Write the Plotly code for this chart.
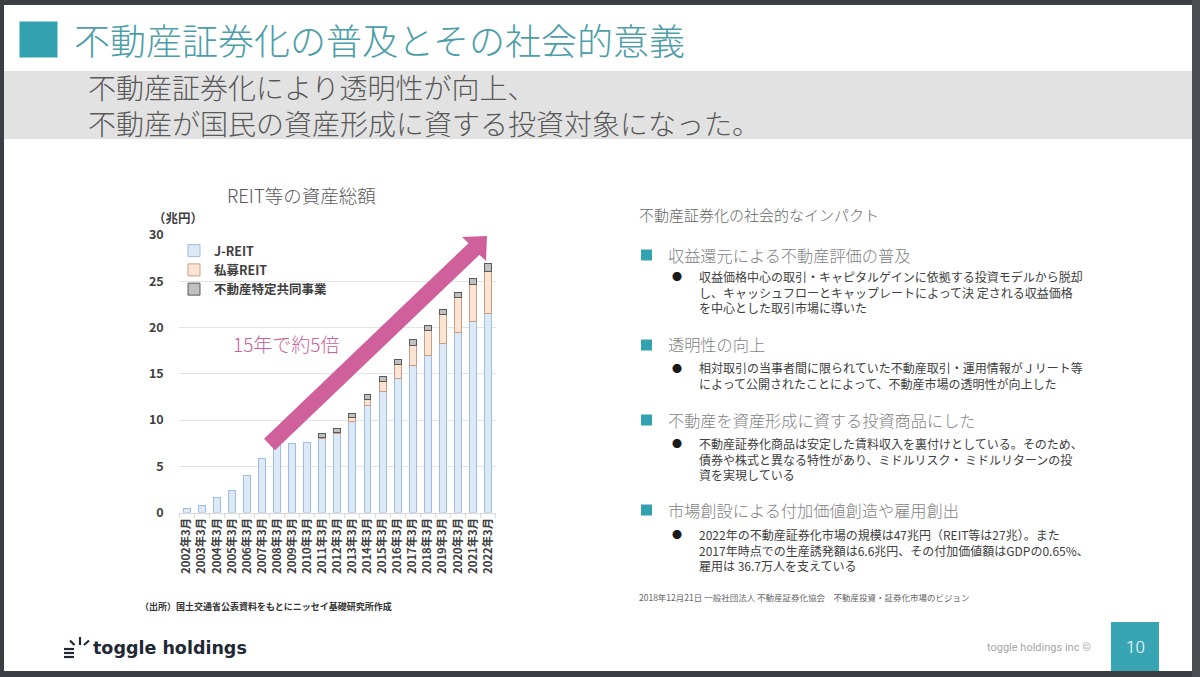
import plotly.graph_objects as go

W, H = 1200, 677
def P(x): return x / W
def Q(y): return 1 - y / H

# ---------------- data ----------------
periods = ["2002年3月", "2003年3月", "2004年3月", "2005年3月", "2006年3月", "2007年3月",
           "2008年3月", "2009年3月", "2010年3月", "2011年3月", "2012年3月", "2013年3月",
           "2014年3月", "2015年3月", "2016年3月", "2017年3月", "2018年3月", "2019年3月",
           "2020年3月", "2021年3月", "2022年3月"]
jreit = [0.4, 0.8, 1.6, 2.4, 4.0, 5.8, 7.2, 7.5, 7.6, 8.0, 8.5, 9.8, 11.6, 13.1, 14.5,
         15.9, 17.0, 18.3, 19.5, 20.6, 21.5]
private_reit = [None, None, None, None, None, None, None, None, None, 0.1, 0.15, 0.5, 0.6,
                1.1, 1.5, 2.2, 2.7, 3.1, 3.7, 4.1, 4.6]
tokutei = [None, None, None, None, None, None, None, None, None, 0.45, 0.45, 0.4, 0.55,
           0.5, 0.5, 0.6, 0.5, 0.6, 0.6, 0.65, 0.85]
series_names = ["J-REIT", "私募REIT", "不動産特定共同事業"]
y_ticks = [0, 5, 10, 15, 20, 25, 30]

JP = "Noto Sans CJK JP, Noto Sans, sans-serif"

fig = go.Figure()
fig.add_trace(go.Bar(x=periods, y=jreit, name=series_names[0],
                     marker=dict(color="#dde9f6", line=dict(color="#9dbde2", width=1))))
fig.add_trace(go.Bar(x=periods, y=private_reit, name=series_names[1],
                     marker=dict(color="#fce4d4", line=dict(color="#c99c84", width=1))))
fig.add_trace(go.Bar(x=periods, y=tokutei, name=series_names[2],
                     marker=dict(color="#c0c0c0", line=dict(color="#5a5a5a", width=1))))

fig.update_layout(
    width=W, height=H, margin=dict(l=0, r=0, t=0, b=0),
    paper_bgcolor="white", plot_bgcolor="white",
    barmode="stack", bargap=0.54,
    font=dict(family=JP, color="#404040"),
    showlegend=True,
    legend=dict(x=P(174), y=Q(236), xanchor="left", yanchor="top",
                traceorder="normal", bgcolor="rgba(0,0,0,0)",
                font=dict(size=12.5, color="#404040", family=JP, weight="bold"),
                itemclick=False, tracegroupgap=0),
    xaxis=dict(domain=[P(179.2), P(495.5)], type="category",
               tickangle=-90, tickfont=dict(size=11.3, color="#404040", weight="bold"),
               showline=True, linecolor="#d9d9d9", linewidth=1,
               ticks="outside", tickson="boundaries", ticklen=4, tickcolor="#d9d9d9",
               showgrid=False, fixedrange=True, automargin=False),
    yaxis=dict(domain=[Q(512.5), Q(235)], range=[0, 30], tickvals=y_ticks,
               tickfont=dict(size=12.5, color="#404040", weight="bold"),
               ticks="outside", ticklen=12, tickcolor="rgba(0,0,0,0)",
               showgrid=True, gridcolor="#e4e4e4", gridwidth=1,
               zeroline=False, showline=False, fixedrange=True, automargin=False),
)

shapes = []
# slide frame (dark border)
frame = "#3b3e42"
shapes += [
    dict(type="rect", xref="paper", yref="paper", x0=0, x1=1, y0=Q(5), y1=1, fillcolor=frame, line_width=0),
    dict(type="rect", xref="paper", yref="paper", x0=0, x1=1, y0=0, y1=Q(671), fillcolor=frame, line_width=0),
    dict(type="rect", xref="paper", yref="paper", x0=0, x1=P(4), y0=0, y1=1, fillcolor=frame, line_width=0),
    dict(type="rect", xref="paper", yref="paper", x0=P(1192), x1=1, y0=0, y1=1, fillcolor="#4a4e52", line_width=0),
]
# gray subtitle band
shapes.append(dict(type="rect", xref="paper", yref="paper", x0=P(4), x1=P(1192), y0=Q(139), y1=Q(71),
                   fillcolor="#e2e2e2", line_width=0, layer="below"))
# title square
shapes.append(dict(type="rect", xref="paper", yref="paper", x0=P(19.5), x1=P(57.5), y0=Q(57.5), y1=Q(21.5),
                   fillcolor="#33a2b0", line_width=0))
# pink arrow
arrow_px = [(264, 438.7), (468.5, 243.2), (462, 237), (487, 236), (486, 261), (479.5, 254.8), (275, 450.3)]
path = "M " + " L ".join(f"{P(x):.5f},{Q(y):.5f}" for x, y in arrow_px) + " Z"
shapes.append(dict(type="path", xref="paper", yref="paper", path=path, fillcolor="#cf609b", line_width=0, layer="above"))
# right-side teal squares
for yc in [255, 345, 420, 510]:
    shapes.append(dict(type="rect", xref="paper", yref="paper", x0=P(641), x1=P(652), y0=Q(yc + 5.5), y1=Q(yc - 5.5),
                       fillcolor="#33a2b0", line_width=0))
# page number box
shapes.append(dict(type="rect", xref="paper", yref="paper", x0=P(1111), x1=P(1159), y0=Q(671), y1=Q(622),
                   fillcolor="#38a5b4", line_width=0))
# logo icon
logo_lines = [((64, 649), (74, 649)), ((64, 653), (74, 653)), ((64, 657), (74, 657)),
              ((70, 640.5), (74.5, 645)), ((80, 637), (80, 645)), ((84, 645), (89, 640.5))]
for (x0, y0), (x1, y1) in logo_lines:
    shapes.append(dict(type="line", xref="paper", yref="paper", x0=P(x0), y0=Q(y0), x1=P(x1), y1=Q(y1),
                       line=dict(color="#222833", width=2.2)))
fig.update_layout(shapes=shapes)

ann = []
def text(x, y, s, size, color, xanchor="left", weight="normal", family=JP, yanchor="middle"):
    ann.append(dict(xref="paper", yref="paper", x=P(x), y=Q(y), text=s, showarrow=False,
                    xanchor=xanchor, yanchor=yanchor, align="left",
                    font=dict(size=size, color=color, family=family, weight=weight)))

text(72, 39.5, "不動産証券化の普及とその社会的意義", 36, "#4c9ea8", weight=300)
text(86, 105, "不動産証券化により透明性が向上、<br>不動産が国民の資産形成に資する投資対象になった。",
     28, "#595959", weight=300)

text(301, 195, "REIT等の資産総額", 18.5, "#595959", xanchor="center", weight=300)
text(151, 217, "（兆円）", 12.5, "#404040", weight="bold")
text(231, 343, "15年で約5倍", 19, "#c9609a", weight=300)
text(138, 606, "（出所）国土交通省公表資料をもとにニッセイ基礎研究所作成", 9, "#333333", weight="bold")

text(637, 214, "不動産証券化の社会的なインパクト", 15, "#666666", weight=300)
sections = [
    (254.5, "収益還元による不動産評価の普及", 276.7,
     ["収益価格中心の取引・キャピタルゲインに依拠する投資モデルから脱却",
      "し、キャッシュフローとキャップレートによって決 定される収益価格",
      "を中心とした取引市場に導いた"]),
    (344.5, "透明性の向上", 368,
     ["相対取引の当事者間に限られていた不動産取引・運用情報がＪリート等",
      "によって公開されたことによって、不動産市場の透明性が向上した"]),
    (420, "不動産を資産形成に資する投資商品にした", 443.5,
     ["不動産証券化商品は安定した賃料収入を裏付けとしている。そのため、",
      "債券や株式と異なる特性があり、ミドルリスク・ ミドルリターンの投",
      "資を実現している"]),
    (510, "市場創設による付加価値創造や雇用創出", 534.5,
     ["2022年の不動産証券化市場の規模は47兆円（REIT等は27兆）。また",
      "2017年時点での生産誘発額は6.6兆円、その付加価値額はGDPの0.65%、",
      "雇用は 36.7万人を支えている"]),
]
for hy, head, y0, lines in sections:
    text(666, hy, head, 16.2, "#7f7f7f", weight=300)
    text(676.5, y0, "●", 10, "#1a1a1a", xanchor="center")
    n = len(lines)
    yc = y0 + (n - 1) * 15.6 / 2
    text(697, yc, "<br>".join(lines), 12, "#404040")

text(637, 596.5, "2018年12月21日 一般社団法人 不動産証券化協会　不動産投資・証券化市場のビジョン", 8.5, "#666666")

text(91, 647.5, "toggle holdings", 17.5, "#222833", weight="bold", family="DejaVu Sans, sans-serif")
text(1093, 647, "toggle holdings inc ©", 11, "#a6a6a6", xanchor="right",
     family="Liberation Sans Narrow, Roboto, sans-serif")
text(1135, 646.5, "10", 17, "#ffffff", xanchor="center", family="Roboto, sans-serif", weight=300)

fig.update_layout(annotations=ann)

post = ("var s=document.createElement('style');"
        "s.innerHTML='html,body{margin:0 !important;padding:0 !important;overflow:hidden !important;}';"
        "document.head.appendChild(s);"
        "document.body.style.margin='0';window.scrollTo(0,0);")
fig.write_html("out.html", config={"displayModeBar": False}, post_script=post)
